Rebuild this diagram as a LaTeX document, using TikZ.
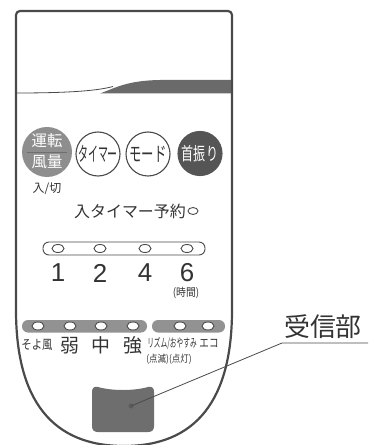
\documentclass[tikz,border=0pt]{standalone}
\usepackage{fontspec}
\newfontfamily\jp{Noto Sans CJK JP}
\newfontfamily\dg{Liberation Sans}
\usetikzlibrary{shapes.geometric}
\definecolor{edge}{HTML}{4A4A4A}
\definecolor{ink}{HTML}{333333}
\definecolor{btngray}{HTML}{8E8E8E}
\definecolor{btndark}{HTML}{555555}
\definecolor{band}{HTML}{6A6A6A}
\definecolor{barfill}{HTML}{929292}
\definecolor{recv}{HTML}{6E6E6E}
\newcommand\fs[1]{\fontsize{#1}{#1}\selectfont}
\newcommand\cond[2]{\scalebox{#1}[1]{#2}}
\tikzset{
  remote/.style={draw=edge, line width=2.2bp},
  btn/.style={circle, draw=edge, line width=1.1bp, minimum size=44bp, fill=white},
  oval/.style={ellipse, draw=edge, line width=0.9bp, fill=white, minimum width=12bp, minimum height=8bp},
  graybar/.style={fill=barfill, rounded corners=6bp},
  leader/.style={draw=edge, line width=0.8bp},
}
\begin{document}
\begin{tikzpicture}[x=1bp,y=-1bp, font=\jp, every node/.style={inner sep=0pt, text=ink}]
\useasboundingbox (0,0) rectangle (368,445);
\clip (0,0) rectangle (368,445);
\fill[white] (0,0) rectangle (368,445);

% band at top
\fill[band] (100,93.5) .. controls (115,88) and (127,80.5) .. (160,80) -- (232,80) -- (232,93.5) -- cycle;
\draw[edge, line width=0.8bp] (16,93) .. controls (60,93) and (95,91.5) .. (113,86.5);

% remote outline
\draw[remote] (16,310) [rounded corners=4bp]-- (16,11) -- (232,11) [sharp corners]-- (232,310)
  .. controls (232,400) and (196,446) .. (124,446) .. controls (52,446) and (16,400) .. (16,310);

% power button
\node[circle, fill=btngray, minimum size=50bp] (power) at (47,152) {};
\draw[edge!80, line width=0.6bp] ([xshift=-20bp]power.center) -- ([xshift=20bp]power.center);
\node[text=white, font=\jp\fs{15.5}] (unten) at (47,141) {運転};
\node[text=white, font=\jp\fs{15.5}] (fuuryou) at (47,162) {風量};
\node[font=\jp\fs{12}] (onoff) at (47,189) {入/切};

\node[btn] (timer) at (98,154) {\fs{20}\cond{0.5}{タイマー}};
\node[btn] (mode) at (148,154) {\fs{20}\cond{0.62}{モード}};
\node[btn, fill=btndark, draw=btndark] (swing) at (200,153.5) {};
\node[text=white, font=\jp\fs{18}] (swingtxt) at (200,153.5) {\cond{0.67}{首振り}};

% reservation
\node[font=\jp\fs{16}] (resv) at (130,211) {入タイマー予約};
\node[oval, minimum width=10bp, minimum height=7bp] (resvled) at (193,211) {};

% timer bar
\node[draw=edge, line width=0.9bp, rounded corners=6bp, minimum width=162bp, minimum height=13bp] (tbar) at (124,248.5) {};
\foreach \x/\n/\lab in {58/t1/1,100/t2/2,145/t4/4,187/t6/6}{
  \node[oval] (\n) at (\x,248.5) {};
  \node[font=\dg\fs{26}] (\n lab) at (\x,273) {\lab};
}
\node[font=\jp\fs{11}] (hours) at (186,292.5) {\cond{0.9}{(時間)}};

% speed bars
\fill[graybar] (22,320) rectangle (147,332.5);
\fill[graybar] (152,320) rectangle (225,332.5);
\foreach \x/\n in {38/s1,70/s2,101/s3,133/s4,180/s5,208/s6}{
  \node[oval] (\n) at (\x,326) {};
}
\node[font=\jp\fs{13}] (soyo) at (37,345) {\cond{0.8}{そよ風}};
\node[font=\jp\fs{19}] (jaku) at (70,345.5) {弱};
\node[font=\jp\fs{19}] (chu) at (101,345.5) {中};
\node[font=\jp\fs{19}] (kyo) at (133,345.5) {強};
\node[font=\jp\fs{12}] (rhythm) at (172,343) {\cond{0.56}{リズム/おやすみ}};
\node[font=\jp\fs{12}] (eco) at (209,343) {\cond{0.8}{エコ}};
\node[font=\jp\fs{10}] (blink) at (169,359.5) {\cond{0.85}{(点滅)(点灯)}};

% receiver window
\fill[recv] (92,392) .. controls (92,388) and (94,386) .. (98,387)
  .. controls (112,391) and (134,391) .. (148,387)
  .. controls (152,386) and (154,388) .. (154,392) -- (154,426)
  .. controls (154,430) and (152,432) .. (148,432) -- (98,432)
  .. controls (94,432) and (92,430) .. (92,426) -- cycle;
\node[circle, fill=edge!90, minimum size=5bp] (dot) at (131,406) {};

% label
\node[font=\jp\fs{26}] (recvlab) at (323,327) {受信部};
\coordinate (ul) at (282,343);
\coordinate (ur) at (368,343);
\draw[leader] (dot.center) -- (ul) -- (ur);
\end{tikzpicture}
\end{document}
